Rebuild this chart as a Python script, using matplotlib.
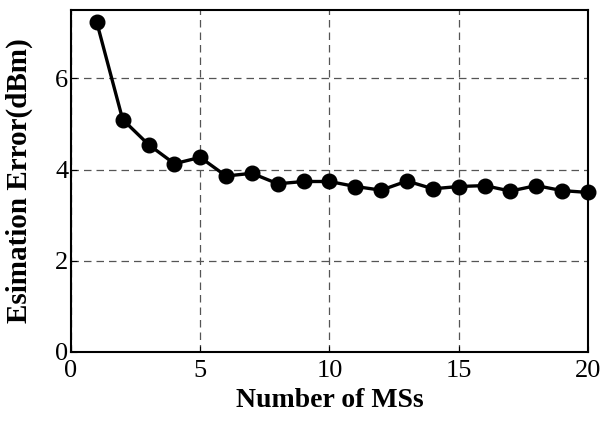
import numpy as np
import matplotlib.pyplot as plt

plt.rcParams['font.family'] = ['Liberation Serif', 'DejaVu Serif']

# number of mobile stations and estimation error
num_ms = np.arange(1, 21)
est_error = [7.23, 5.10, 4.55, 4.13, 4.27, 3.86, 3.92, 3.69, 3.74, 3.74,
             3.63, 3.55, 3.75, 3.58, 3.63, 3.65, 3.53, 3.65, 3.54, 3.50]

fig = plt.figure(figsize=(6.04, 4.22), dpi=100)
ax = fig.add_axes([0.1175, 0.166, 0.856, 0.81])

ax.plot(num_ms, est_error, color='black', linewidth=2.4, marker='o',
        markersize=10.5, clip_on=False, zorder=3)

ax.set_xlim(0, 20)
ax.set_ylim(0, 7.5)
ax.set_xticks([0, 5, 10, 15, 20])
ax.set_yticks([0, 2, 4, 6])
ax.grid(True, linestyle=(0, (6, 4)), color='#555555', linewidth=0.9)
ax.tick_params(direction='in', labelsize=19, length=4)
ax.tick_params(axis='x', pad=6)
ax.tick_params(axis='y', pad=2)
for sp in ax.spines.values():
    sp.set_linewidth(1.5)

ax.set_xlabel('Number of MSs', fontsize=20, fontweight='bold')
ax.set_ylabel('Esimation Error(dBm)', fontsize=21, fontweight='bold')
ax.xaxis.set_label_coords(0.5, -0.105)
ax.yaxis.set_label_coords(-0.073, 0.5)

fig.savefig('out.png', dpi=100)
